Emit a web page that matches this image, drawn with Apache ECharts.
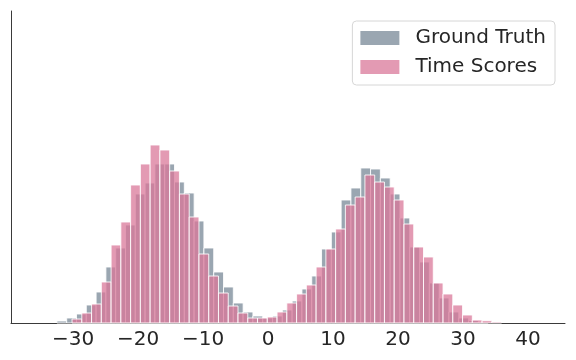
<!DOCTYPE html>
<html>
<head>
<meta charset="utf-8">
<script src="https://cdn.jsdelivr.net/npm/echarts@6/dist/echarts.min.js"></script>
<style>
  html, body { margin: 0; padding: 0; background: #fff; }
  #chart { width: 576px; height: 360px; }
</style>
</head>
<body>
<div id="chart"></div>
<script>
// histogram bins: start edge, bin width, counts
var gtStart = -32.48;
var gtWidth = 1.508;
var gtCounts = [2, 5, 9, 18, 31, 56, 75, 98, 129, 140, 159, 159, 141, 130, 102, 75, 51, 36,
  20, 11, 7, 5, 7, 13, 22, 34, 47, 74, 91, 123, 135, 155, 154, 145, 129, 105, 76, 61, 40,
  25, 11, 5, 2.5, 1];

var tsStart = -30.15;
var tsWidth = 1.502;
var tsCounts = [4, 10, 19, 41, 78, 101, 138, 159, 178, 173, 152, 129, 106, 69, 47, 30, 17,
  10, 5, 5, 6, 11, 20, 29, 38, 56, 74, 94, 118, 126, 148, 141, 136, 123, 99, 76, 66, 40,
  29, 18, 8, 3, 2.3, 1];

var xTicks = [-30, -20, -10, 0, 10, 20, 30, 40];

var FONT = 'DejaVu Sans';

function toBins(start, width, counts) {
  var out = [];
  for (var i = 0; i < counts.length; i++) {
    out.push([start + i * width, start + (i + 1) * width, counts[i]]);
  }
  return out;
}

function binRenderer(color) {
  return function (params, api) {
    var p0 = api.coord([api.value(0), 0]);
    var p1 = api.coord([api.value(1), api.value(2)]);
    return {
      type: 'rect',
      shape: { x: p0[0], y: p1[1], width: p1[0] - p0[0], height: p0[1] - p1[1] },
      style: { fill: color, stroke: 'rgba(255,255,255,0.85)', lineWidth: 1 }
    };
  };
}

var chart = echarts.init(document.getElementById('chart'));
chart.setOption({
  animation: false,
  grid: { left: 11, right: 11, top: 11, bottom: 37, outerBoundsMode: 'none' },
  legend: {
    orient: 'vertical',
    right: 21,
    top: 21,
    icon: 'rect',
    itemWidth: 39,
    itemHeight: 14,
    itemGap: 9,
    padding: [7, 9, 8, 8],
    borderColor: '#d6d6d6',
    borderWidth: 1,
    borderRadius: 4,
    backgroundColor: 'rgba(255,255,255,0.8)',
    textStyle: { fontFamily: FONT, fontSize: 20, color: '#262626', padding: [0, 0, 0, 11] },
    data: ['Ground Truth', 'Time Scores']
  },
  xAxis: {
    type: 'value',
    min: -39.54,
    max: 45.69,
    axisLine: { show: true, onZero: false, lineStyle: { color: '#3a3a3a', width: 1 } },
    axisTick: { show: false },
    splitLine: { show: false },
    axisLabel: {
      customValues: xTicks,
      margin: 7,
      fontFamily: FONT,
      fontSize: 20,
      color: '#262626',
      formatter: function (v) { return String(v).replace('-', '\u2212'); }
    }
  },
  yAxis: {
    type: 'value',
    min: 0,
    max: 312,
    axisLine: { show: true, onZero: false, lineStyle: { color: '#3a3a3a', width: 1 } },
    axisTick: { show: false },
    axisLabel: { show: false },
    splitLine: { show: false }
  },
  series: [
    {
      name: 'Ground Truth',
      type: 'custom',
      itemStyle: { color: 'rgba(120,136,151,0.75)' },
      renderItem: binRenderer('rgba(120,136,151,0.75)'),
      encode: { x: [0, 1], y: 2 },
      data: toBins(gtStart, gtWidth, gtCounts)
    },
    {
      name: 'Time Scores',
      type: 'custom',
      itemStyle: { color: 'rgba(218,120,154,0.75)' },
      renderItem: binRenderer('rgba(218,120,154,0.75)'),
      encode: { x: [0, 1], y: 2 },
      data: toBins(tsStart, tsWidth, tsCounts)
    }
  ]
});
</script>
</body>
</html>
